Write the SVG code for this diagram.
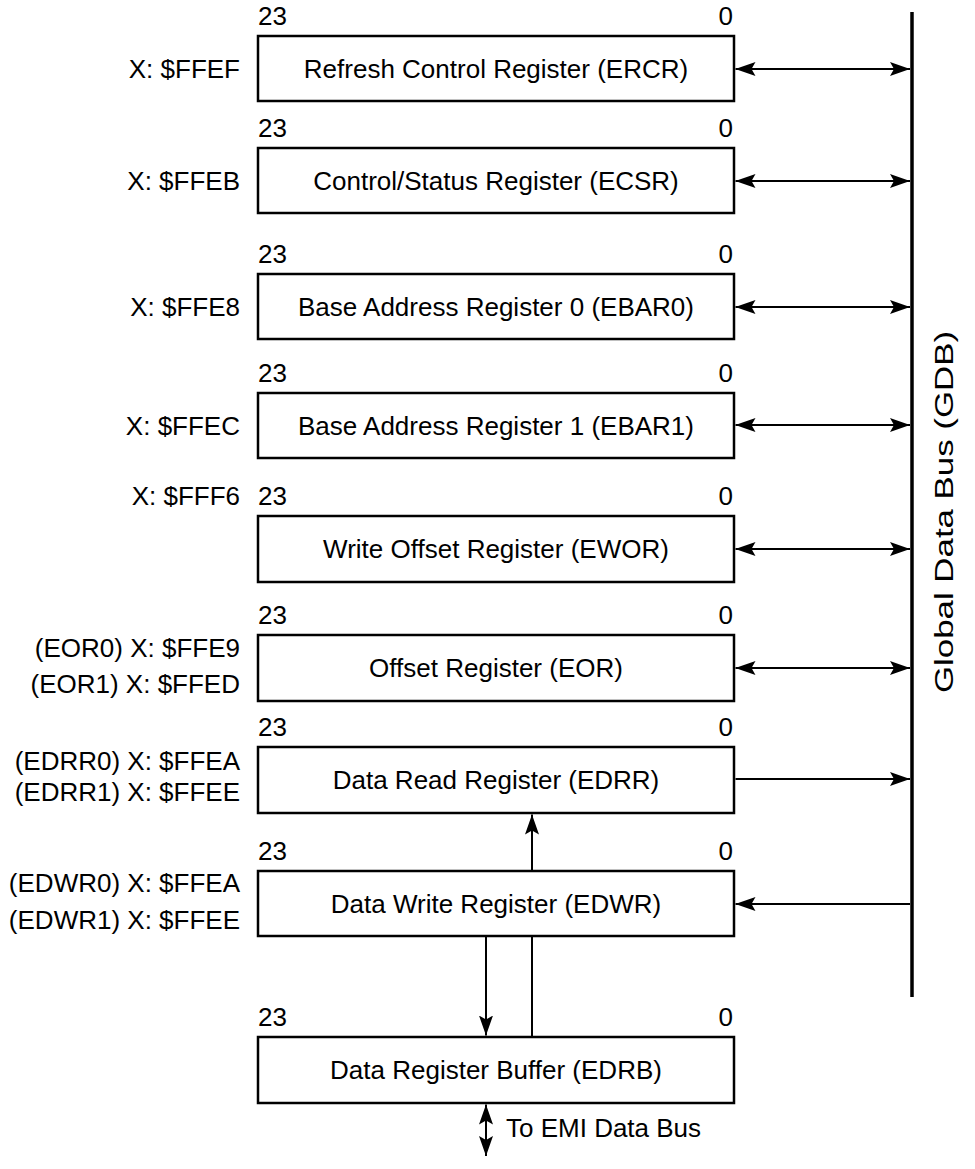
<svg xmlns="http://www.w3.org/2000/svg" width="975" height="1169" viewBox="0 0 975 1169">
<style>
text{font-family:"Liberation Sans",Arial,Helvetica,sans-serif;font-size:26px;fill:#000}
.m{text-anchor:middle}
.e{text-anchor:end}
.box{fill:#fff;stroke:#000;stroke-width:2.5}
.ln{stroke:#000;stroke-width:2;fill:none}
.bus{stroke:#000;stroke-width:3.5;fill:none}
</style>
<defs>
<marker id="ah" markerUnits="userSpaceOnUse" markerWidth="20" markerHeight="14" refX="20" refY="7" orient="auto-start-reverse">
<path d="M0,0 L20,7 L0,14 L4,7 Z" fill="#000"/>
</marker>
</defs>
<g id="bus">
<line class="bus" x1="912" y1="12" x2="912" y2="997"/>
<text transform="translate(953,512) rotate(-90)" class="m" textLength="362" lengthAdjust="spacingAndGlyphs">Global Data Bus (GDB)</text>
</g>
<g id="ercr">
<rect class="box" x="258" y="36" width="476" height="65"/>
<text x="258" y="25">23</text><text x="733" y="25" class="e">0</text>
<text x="496" y="77.5" class="m">Refresh Control Register (ERCR)</text>
<text x="240" y="77.5" class="e">X: $FFEF</text>
</g>
<g id="ecsr">
<rect class="box" x="258" y="148" width="476" height="65"/>
<text x="258" y="137">23</text><text x="733" y="137" class="e">0</text>
<text x="496" y="189.5" class="m">Control/Status Register (ECSR)</text>
<text x="240" y="189.5" class="e">X: $FFEB</text>
</g>
<g id="ebar0">
<rect class="box" x="258" y="274" width="476" height="65"/>
<text x="258" y="263">23</text><text x="733" y="263" class="e">0</text>
<text x="496" y="315.5" class="m">Base Address Register 0 (EBAR0)</text>
<text x="240" y="315.5" class="e">X: $FFE8</text>
</g>
<g id="ebar1">
<rect class="box" x="258" y="393" width="476" height="65"/>
<text x="258" y="382">23</text><text x="733" y="382" class="e">0</text>
<text x="496" y="434.5" class="m">Base Address Register 1 (EBAR1)</text>
<text x="240" y="434.5" class="e">X: $FFEC</text>
</g>
<g id="ewor">
<rect class="box" x="258" y="516" width="476" height="66"/>
<text x="258" y="505">23</text><text x="733" y="505" class="e">0</text>
<text x="496" y="558" class="m">Write Offset Register (EWOR)</text>
<text x="240" y="505" class="e">X: $FFF6</text>
</g>
<g id="eor">
<rect class="box" x="258" y="635" width="476" height="66"/>
<text x="258" y="624">23</text><text x="733" y="624" class="e">0</text>
<text x="496" y="677" class="m">Offset Register (EOR)</text>
<text x="240" y="657" class="e">(EOR0) X: $FFE9</text>
<text x="240" y="693" class="e">(EOR1) X: $FFED</text>
</g>
<g id="edrr">
<rect class="box" x="258" y="747" width="476" height="66"/>
<text x="258" y="736">23</text><text x="733" y="736" class="e">0</text>
<text x="496" y="789" class="m">Data Read Register (EDRR)</text>
<text x="240" y="769.5" class="e">(EDRR0) X: $FFEA</text>
<text x="240" y="800.5" class="e">(EDRR1) X: $FFEE</text>
</g>
<g id="edwr">
<rect class="box" x="258" y="871" width="476" height="65"/>
<text x="258" y="860">23</text><text x="733" y="860" class="e">0</text>
<text x="496" y="912.5" class="m">Data Write Register (EDWR)</text>
<text x="240" y="892" class="e">(EDWR0) X: $FFEA</text>
<text x="240" y="928.5" class="e">(EDWR1) X: $FFEE</text>
</g>
<g id="edrb">
<rect class="box" x="258" y="1037" width="476" height="66"/>
<text x="258" y="1026">23</text><text x="733" y="1026" class="e">0</text>
<text x="496" y="1079" class="m">Data Register Buffer (EDRB)</text>
</g>
<g id="connectors">
<line class="ln" x1="735.5" y1="69" x2="910" y2="69" marker-start="url(#ah)" marker-end="url(#ah)"/>
<line class="ln" x1="735.5" y1="181" x2="910" y2="181" marker-start="url(#ah)" marker-end="url(#ah)"/>
<line class="ln" x1="735.5" y1="307" x2="910" y2="307" marker-start="url(#ah)" marker-end="url(#ah)"/>
<line class="ln" x1="735.5" y1="425" x2="910" y2="425" marker-start="url(#ah)" marker-end="url(#ah)"/>
<line class="ln" x1="735.5" y1="549" x2="910" y2="549" marker-start="url(#ah)" marker-end="url(#ah)"/>
<line class="ln" x1="735.5" y1="668" x2="910" y2="668" marker-start="url(#ah)" marker-end="url(#ah)"/>
<line class="ln" x1="735.5" y1="779" x2="910" y2="779" marker-end="url(#ah)"/>
<line class="ln" x1="910" y1="904" x2="735.5" y2="904" marker-end="url(#ah)"/>
<line class="ln" x1="532" y1="1036" x2="532" y2="937"/>
<line class="ln" x1="532" y1="870" x2="532" y2="814.5" marker-end="url(#ah)"/>
<line class="ln" x1="486" y1="937" x2="486" y2="1035.5" marker-end="url(#ah)"/>
<line class="ln" x1="486" y1="1104.5" x2="486" y2="1156" marker-start="url(#ah)" marker-end="url(#ah)"/>
<text x="506" y="1137">To EMI Data Bus</text>
</g>
</svg>
